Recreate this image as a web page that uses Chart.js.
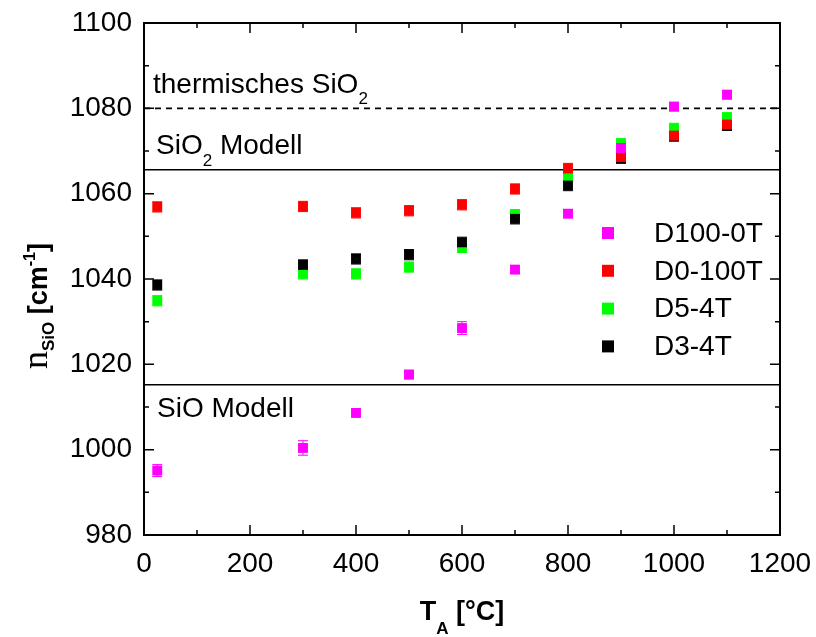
<!DOCTYPE html>
<html>
<head>
<meta charset="utf-8">
<script src="https://cdn.jsdelivr.net/npm/chart.js@4"></script>
<style>
  html, body { margin: 0; padding: 0; background: #fff; }
  #wrap { width: 816px; height: 637px; }
</style>
</head>
<body>
<div id="wrap"><canvas id="nChart" width="816" height="637"></canvas></div>
<script>
// annealing temperatures [°C]
const temps = [25, 300, 400, 500, 600, 700, 800, 900, 1000, 1100];

// peak position n_SiO [cm^-1]
const d100_0T = [995.1, 1000.4, 1008.6, 1017.6, 1028.5, 1042.2, 1055.3, 1070.7, 1080.4, 1083.2];
const d0_100T = [1056.9, 1057.0, 1055.5, 1056.0, 1057.4, 1061.1, 1065.9, 1068.6, 1073.6, 1076.2];
const d5_4T = [1034.9, 1041.2, 1041.2, 1042.8, 1047.4, 1055.1, 1064.1, 1071.7, 1075.3, 1077.8];
const d3_4T = [1038.6, 1043.3, 1044.7, 1045.7, 1048.6, 1054.1, 1061.9, 1068.3, 1073.5, 1076.0];

// error bars
const err100_0T = [1.4, 1.7, 0.8, 1.0, 1.5, 0.8, 0.8, 1.0, 1.0, 1.0];
const err0_100T = [1.2, 1.2, 1.2, 1.2, 1.2, 1.2, 1.2, 1.2, 1.2, 1.2];
const err5_4T = [1.2, 1.2, 1.2, 1.2, 1.2, 1.2, 1.2, 1.2, 1.2, 1.2];
const err3_4T = [1.2, 1.2, 1.2, 1.2, 1.2, 1.2, 1.2, 1.2, 1.2, 1.2];

// reference lines
const xRange = [0, 1200];
const thermSiO2 = 1080;
const sio2Modell = 1065.6;
const sioModell = 1015.2;

const xTicks = [0, 200, 400, 600, 800, 1000, 1200];
const yTicks = [980, 1000, 1020, 1040, 1060, 1080, 1100];

function pts(ys) {
	return temps.map((t, i) => ({ x: t, y: ys[i] }));
}
function hline(v) {
	return xRange.map(x => ({ x: x, y: v }));
}

const series = [
	{ label: 'D100-0T', data: d100_0T, err: err100_0T, color: '#ff00ff', order: 0 },
	{ label: 'D0-100T', data: d0_100T, err: err0_100T, color: '#ff0000', order: 1 },
	{ label: 'D5-4T', data: d5_4T, err: err5_4T, color: '#00ff00', order: 3 },
	{ label: 'D3-4T', data: d3_4T, err: err3_4T, color: '#000000', order: 2 },
];

const datasets = series.map(s => ({
	label: s.label,
	data: pts(s.data),
	err: s.err,
	order: s.order,
	pointStyle: 'rect',
	pointRadius: 7,
	pointHoverRadius: 7,
	backgroundColor: s.color,
	borderColor: s.color,
	borderWidth: 0,
	showLine: false,
}));

[
	{ v: thermSiO2, dash: [6, 5] },
	{ v: sio2Modell, dash: [] },
	{ v: sioModell, dash: [] },
].forEach(l => {
	datasets.push({
		label: '',
		data: hline(l.v),
		showLine: true,
		borderColor: '#000',
		borderWidth: 1.6,
		borderDash: l.dash,
		pointRadius: 0,
		order: 10,
		isRef: true,
	});
});

// draw a run of text pieces with sub/superscripts
function drawRuns(c, runs, x, y) {
	runs.forEach(r => {
		c.font = r.font;
		c.fillText(r.t, x, y + (r.dy || 0));
		x += c.measureText(r.t).width;
	});
	return x;
}
function runsWidth(c, runs) {
	let w = 0;
	runs.forEach(r => { c.font = r.font; w += c.measureText(r.t).width; });
	return w;
}

const SANS = '"Liberation Sans", Arial, sans-serif';

const errorBars = {
	id: 'errorBars',
	beforeDatasetsDraw(chart) {
		const c = chart.ctx;
		const ys = chart.scales.y;
		chart.data.datasets.forEach((ds, di) => {
			if (!ds.err) return;
			const meta = chart.getDatasetMeta(di);
			c.save();
			c.strokeStyle = ds.borderColor;
			c.lineWidth = 1;
			meta.data.forEach((p, i) => {
				const v = ds.data[i].y;
				const e = ds.err[i];
				const top = ys.getPixelForValue(v + e);
				const bot = ys.getPixelForValue(v - e);
				c.beginPath();
				c.moveTo(p.x, top); c.lineTo(p.x, bot);
				c.moveTo(p.x - 5, top); c.lineTo(p.x + 5, top);
				c.moveTo(p.x - 5, bot); c.lineTo(p.x + 5, bot);
				c.stroke();
			});
			c.restore();
		});
	},
};

const frame = {
	id: 'frame',
	afterDraw(chart) {
		const c = chart.ctx;
		const a = chart.chartArea;
		const xs = chart.scales.x;
		const ys = chart.scales.y;
		c.save();
		c.strokeStyle = '#000';
		c.lineWidth = 2;
		c.strokeRect(a.left, a.top, a.right - a.left, a.bottom - a.top);

		// inward ticks on all four sides
		c.lineWidth = 1.5;
		c.beginPath();
		for (let v = 0; v <= 1200; v += 100) {
			const px = xs.getPixelForValue(v);
			const len = v % 200 === 0 ? 10 : 5;
			c.moveTo(px, a.bottom); c.lineTo(px, a.bottom - len);
			c.moveTo(px, a.top); c.lineTo(px, a.top + len);
		}
		for (let v = 980; v <= 1100; v += 10) {
			const py = ys.getPixelForValue(v);
			const len = v % 20 === 0 ? 10 : 5;
			c.moveTo(a.left, py); c.lineTo(a.left + len, py);
			c.moveTo(a.right, py); c.lineTo(a.right - len, py);
		}
		c.stroke();

		// annotations
		c.fillStyle = '#000';
		c.textBaseline = 'alphabetic';
		c.textAlign = 'left';
		const big = '28px ' + SANS;
		const sub = '17px ' + SANS;
		drawRuns(c, [{ t: 'thermisches SiO', font: big }, { t: '2', font: sub, dy: 11 }], a.left + 9, 93);
		drawRuns(c, [{ t: 'SiO', font: big }, { t: '2', font: sub, dy: 12 }, { t: ' Modell', font: big }], a.left + 12, 154);
		drawRuns(c, [{ t: 'SiO Modell', font: big }], a.left + 13, 417);

		// legend
		c.textBaseline = 'middle';
		series.forEach((s, i) => {
			const cy = 233 + i * 37.8;
			c.fillStyle = s.color;
			c.fillRect(602, cy - 6, 12, 12);
			c.fillStyle = '#000';
			c.font = big;
			c.fillText(s.label, 654, cy + 1);
		});

		// x title
		c.textBaseline = 'alphabetic';
		const bold = 'bold 27px ' + SANS;
		const xRuns = [{ t: 'T', font: bold }, { t: 'A', font: 'bold 17px ' + SANS, dy: 14 }, { t: ' [°C]', font: bold }];
		const xw = runsWidth(c, xRuns);
		drawRuns(c, xRuns, (a.left + a.right) / 2 - xw / 2, 620);

		// y title
		c.translate(47, 306);
		c.rotate(-Math.PI / 2);
		const yRuns = [
			{ t: 'n', font: '36px "Liberation Serif", "Times New Roman", serif' },
			{ t: 'SiO', font: 'bold 17px ' + SANS, dy: 7 },
			{ t: ' [cm', font: bold },
			{ t: '-1', font: 'bold 16px ' + SANS, dy: -12 },
			{ t: ']', font: bold },
		];
		const yw = runsWidth(c, yRuns);
		drawRuns(c, yRuns, -yw / 2, 0);
		c.restore();
	},
};

const ctx = document.getElementById('nChart').getContext('2d');
Chart.defaults.color = '#000';
Chart.defaults.font.family = SANS;

const nChart = new Chart(ctx, {
	type: 'scatter',
	data: { datasets: datasets },
	options: {
		responsive: false,
		animation: false,
		layout: { padding: { top: 23, right: 36, left: 0, bottom: 0 } },
		plugins: {
			legend: { display: false },
			tooltip: { enabled: false },
		},
		scales: {
			x: {
				type: 'linear',
				min: 0,
				max: 1200,
				afterBuildTicks: s => { s.ticks = xTicks.map(v => ({ value: v })); },
				afterFit: s => { s.height = 102; s.paddingLeft = 0; s.paddingRight = 0; },
				grid: { display: false, drawTicks: false },
				border: { display: false },
				ticks: { font: { size: 28 }, padding: 12, maxRotation: 0, autoSkip: false, callback: v => String(v) },
			},
			y: {
				type: 'linear',
				min: 980,
				max: 1100,
				afterBuildTicks: s => { s.ticks = yTicks.map(v => ({ value: v })); },
				afterFit: s => { s.width = 144; s.paddingTop = 0; s.paddingBottom = 0; },
				grid: { display: false, drawTicks: false },
				border: { display: false },
				ticks: { font: { size: 28 }, padding: 12, autoSkip: false, callback: v => String(v) },
			},
		},
	},
	plugins: [errorBars, frame],
});
</script>
</body>
</html>
